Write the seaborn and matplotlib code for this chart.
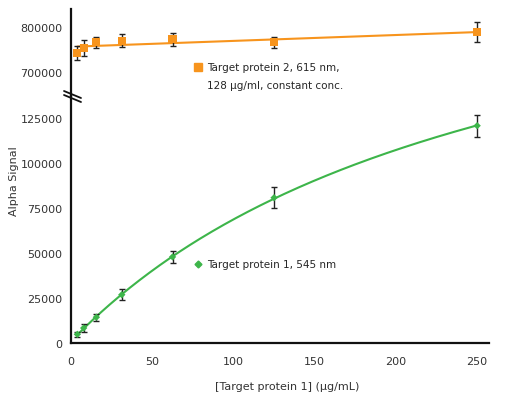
import numpy as np
import pandas as pd
import matplotlib
matplotlib.use('Agg')
import matplotlib.pyplot as plt
import seaborn as sns
from matplotlib.lines import Line2D

# --- data ---
conc = [3.9, 7.8, 15.6, 31.25, 62.5, 125, 250]
signal_p1 = [5000, 8500, 14500, 27000, 48000, 80900, 120900]
err_p1 = [1500, 2000, 2000, 3000, 3500, 6000, 6200]
signal_p2 = [741500, 752000, 765000, 769000, 772000, 765000, 788000]
err_p2 = [16000, 18000, 12000, 15000, 15000, 12000, 23000]

label_p1 = 'Target protein 1, 545 nm'
label_p2 = 'Target protein 2, 615 nm,\n128 \u00b5g/ml, constant conc.'

orange = '#F7941D'
green = '#3DB54A'

df = pd.DataFrame({'conc': conc, 'p1': signal_p1, 'p2': signal_p2})

# fits: linear for protein 2, saturating hyperbola for protein 1
x_fit = np.linspace(min(conc), max(conc), 200)
slope, icpt = np.polyfit(conc, signal_p2, 1)
fit_p2 = pd.DataFrame({'conc': x_fit, 'y': icpt + slope * x_fit})

xa = np.array(conc)
ya = np.array(signal_p1)
best = None
for K in np.linspace(20, 1000, 981):
    A = np.column_stack([np.ones_like(xa), xa / (K + xa)])
    coef, res, _, _ = np.linalg.lstsq(A, ya, rcond=None)
    sse = np.sum((A @ coef - ya) ** 2)
    if best is None or sse < best[0]:
        best = (sse, K, coef)
_, K, (y0, V) = best
fit_p1 = pd.DataFrame({'conc': x_fit, 'y': y0 + V * x_fit / (K + x_fit)})

sns.set_style('white')
plt.rcParams['font.family'] = ['DejaVu Sans']
plt.rcParams['font.size'] = 8

fig = plt.figure(figsize=(5.21, 4.02), dpi=100)
left, width = 0.1363, 0.8029
ax_lo = fig.add_axes([left, 0.1435, width, 0.6152])
ax_hi = fig.add_axes([left, 0.7587, width, 0.2164], sharex=ax_lo)

# upper panel: protein 2
sns.lineplot(data=fit_p2, x='conc', y='y', color=orange, lw=1.5, ax=ax_hi)
ax_hi.errorbar(conc, signal_p2, yerr=err_p2, fmt='none', ecolor='#222222',
               elinewidth=1, capsize=2.5, capthick=1, zorder=3)
sns.scatterplot(data=df, x='conc', y='p2', marker='s', s=34, color=orange,
                edgecolor='none', ax=ax_hi, zorder=4, legend=False)

# lower panel: protein 1
sns.lineplot(data=fit_p1, x='conc', y='y', color=green, lw=1.5, ax=ax_lo)
ax_lo.errorbar(conc, signal_p1, yerr=err_p1, fmt='none', ecolor='#222222',
               elinewidth=1, capsize=2.5, capthick=1, zorder=3)
sns.scatterplot(data=df, x='conc', y='p1', marker='D', s=14, color=green,
                edgecolor='none', ax=ax_lo, zorder=4, legend=False)

ax_lo.set_xlim(0, 257.5)
ax_lo.set_ylim(0, 137400)
ax_hi.set_ylim(646000, 839300)
ax_lo.set_xticks([0, 50, 100, 150, 200, 250])
ax_lo.set_yticks([0, 25000, 50000, 75000, 100000, 125000])
ax_hi.set_yticks([700000, 800000])

for ax in (ax_lo, ax_hi):
    ax.set_xlabel('')
    ax.set_ylabel('')
    ax.patch.set_alpha(0)
    for s in ('top', 'right'):
        ax.spines[s].set_visible(False)
    ax.spines['left'].set_linewidth(1.6)
    ax.spines['bottom'].set_linewidth(1.6)
    ax.spines['left'].set_color('#111111')
    ax.spines['bottom'].set_color('#111111')
    ax.tick_params(axis='both', direction='out', length=4, width=1.4,
                   colors='#111111', labelcolor='#333333', labelsize=8, pad=2)
ax_lo.tick_params(axis='x', pad=5)
ax_hi.spines['bottom'].set_visible(False)
ax_hi.tick_params(axis='x', bottom=False, labelbottom=False)

# legends: marker sits beside the first line of the label
sq = Line2D([], [], marker='s', color=orange, markersize=5.5, linestyle='none')
blank = Line2D([], [], linestyle='none')
ax_hi.legend(handles=[sq, blank], labels=label_p2.split('\n'),
             loc='upper left', bbox_to_anchor=(0.28, 0.435), frameon=False,
             fontsize=7.5, handletextpad=0.4, borderaxespad=0,
             handlelength=1, labelspacing=0.75)
dm = Line2D([], [], marker='D', color=green, markersize=3.5, linestyle='none')
ax_lo.legend(handles=[dm], labels=[label_p1], loc='center left',
             bbox_to_anchor=(0.28, 0.32), frameon=False, fontsize=7.5,
             handletextpad=0.4, borderaxespad=0, handlelength=1)

fig.text(14 / 521, 1 - 181 / 402, 'Alpha Signal', rotation=90, ha='center',
         va='center', fontsize=8, color='#333333')
fig.text(287 / 521, 1 - 387 / 402, '[Target protein 1] (\u00b5g/mL)',
         ha='center', va='center', fontsize=8, color='#333333')

# axis break marks
for dy in (0, 4):
    fig.add_artist(Line2D([64 / 521, 81 / 521],
                          [1 - (92 + dy) / 402, 1 - (99 + dy) / 402],
                          color='#111111', lw=1.3))

fig.savefig('out.png', dpi=100)
